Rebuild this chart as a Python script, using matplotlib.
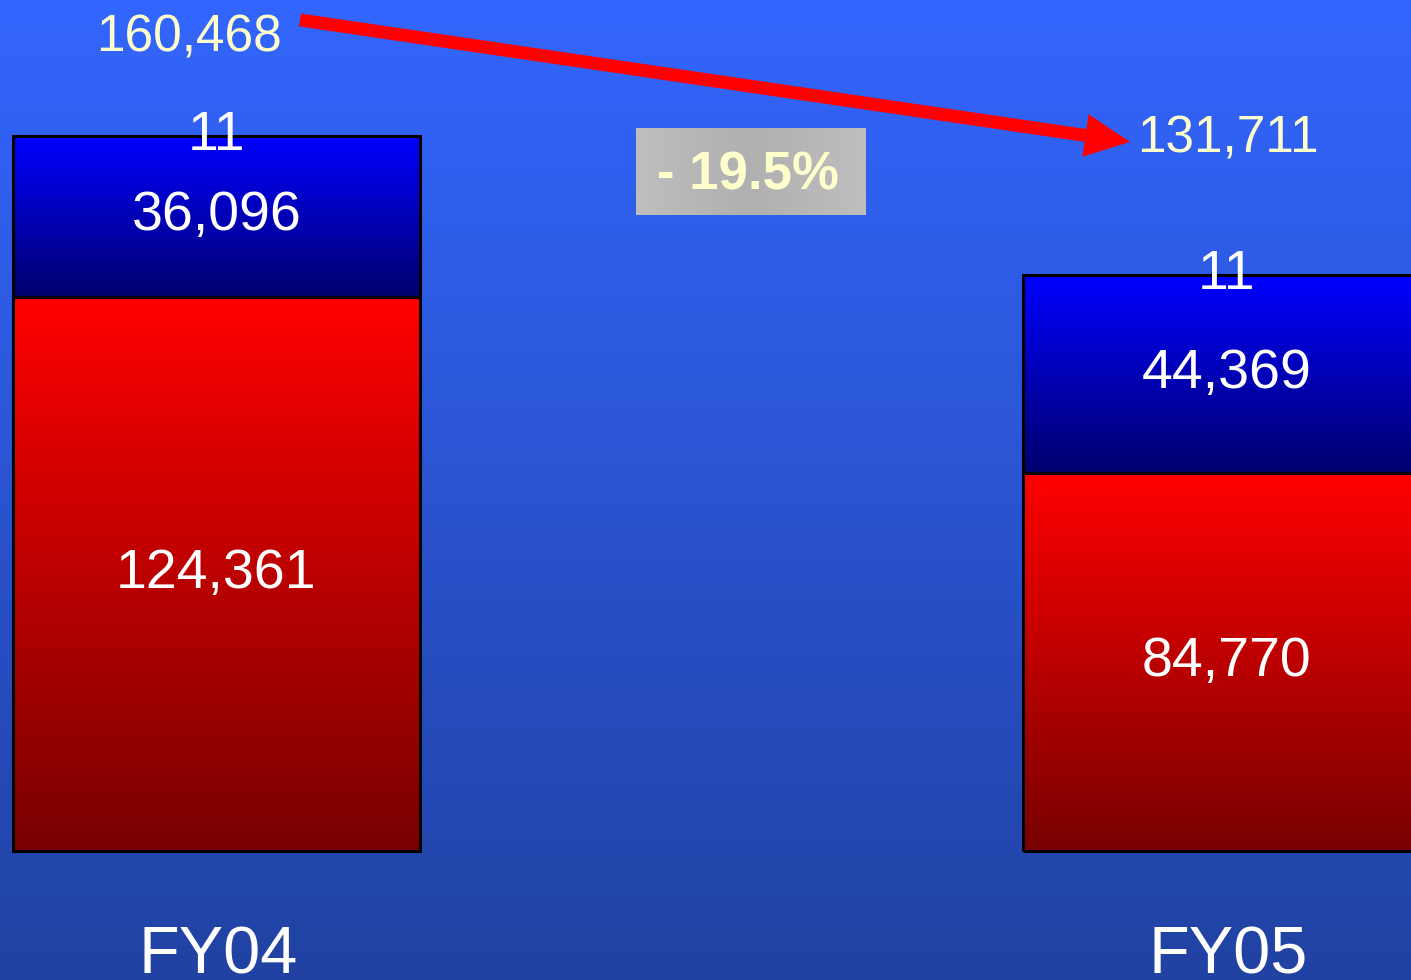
import numpy as np
import matplotlib
matplotlib.use('Agg')
import matplotlib.pyplot as plt
from matplotlib.colors import LinearSegmentedColormap
from matplotlib.patches import FancyArrow

plt.rcParams['font.family'] = ['Liberation Sans', 'DejaVu Sans']

years = ['FY04', 'FY05']
red_vals = [124361, 84770]
blue_vals = [36096, 44369]
top_vals = [11, 11]
totals = [160468, 131711]
change_label = '- 19.5%'

W, H = 1411, 980
fig = plt.figure(figsize=(W / 100, H / 100), dpi=100)

# background gradient
bg = fig.add_axes([0, 0, 1, 1])
bg.axis('off')
bg_cmap = LinearSegmentedColormap.from_list('bg', ['#3366ff', '#2142a2'])
bg.imshow(np.linspace(0, 1, 256).reshape(-1, 1), cmap=bg_cmap, aspect='auto',
          extent=(0, 1, 0, 1))

# bars
ax = fig.add_axes([0, 0, 1, 1])
ax.patch.set_alpha(0)
ax.axis('off')
xlim = (-0.2144, 1.1827)
ylim = (-28935, 190879)

x = np.arange(len(years))
bw = 0.403
red_cmap = LinearSegmentedColormap.from_list('r', ['#780000', '#ff0000'])
blue_cmap = LinearSegmentedColormap.from_list('b', ['#00006e', '#0000ff'])
grad = np.linspace(1, 0, 256).reshape(-1, 1)

bottoms = np.zeros(len(years))
for vals, cmap in [(red_vals, red_cmap), (blue_vals, blue_cmap)]:
    bars = ax.bar(x, vals, bw, bottom=bottoms, facecolor='none',
                  edgecolor='black', linewidth=2.2, zorder=3)
    for b, v in zip(bars, vals):
        x0, y0 = b.get_x(), b.get_y()
        ax.imshow(grad, cmap=cmap, aspect='auto', zorder=2,
                  extent=(x0, x0 + b.get_width(), y0, y0 + b.get_height()))
        ax.text(b.get_x() + b.get_width() / 2, y0 + v / 2, f'{v:,}',
                color='white', fontsize=40, ha='center', va='center', zorder=4)
    bottoms = bottoms + np.array(vals)

for xi, b, t in zip(x, bottoms, top_vals):
    ax.annotate(f'{t:,}', (xi, b + t), xytext=(0, 0), textcoords='offset points',
                color='white', fontsize=40, ha='center', va='center', zorder=4)

for xi, name in zip(x, years):
    ax.text(xi + 0.002, -27450, name, color='white', fontsize=48,
            ha='center', va='baseline')

ax.set_xlim(*xlim)
ax.set_ylim(*ylim)

# annotations in pixel space
ov = fig.add_axes([0, 0, 1, 1])
ov.patch.set_alpha(0)
ov.axis('off')

total_pos = [(189, 38), (1228, 139)]
for (px, py), t in zip(total_pos, totals):
    ov.text(px, py, f'{t:,}', color='#ffffcc', fontsize=37, ha='center', va='center')

ov.add_patch(FancyArrow(300, 20, 830, 122, width=13, head_width=43, head_length=45,
                        length_includes_head=True, color='#ff0000', lw=0))

box_cmap = LinearSegmentedColormap.from_list('g', ['#bebebe', '#b0b0b0', '#bebebe'])
ov.imshow(np.linspace(0, 1, 256).reshape(1, -1), cmap=box_cmap, aspect='auto',
          extent=(636, 866, 215, 129))
ov.text(748, 176, change_label, color='#ffffcc', fontsize=38, fontweight='bold',
        ha='center', va='center')

ov.set_xlim(0, W)
ov.set_ylim(H, 0)

fig.savefig('out.png', dpi=100)
